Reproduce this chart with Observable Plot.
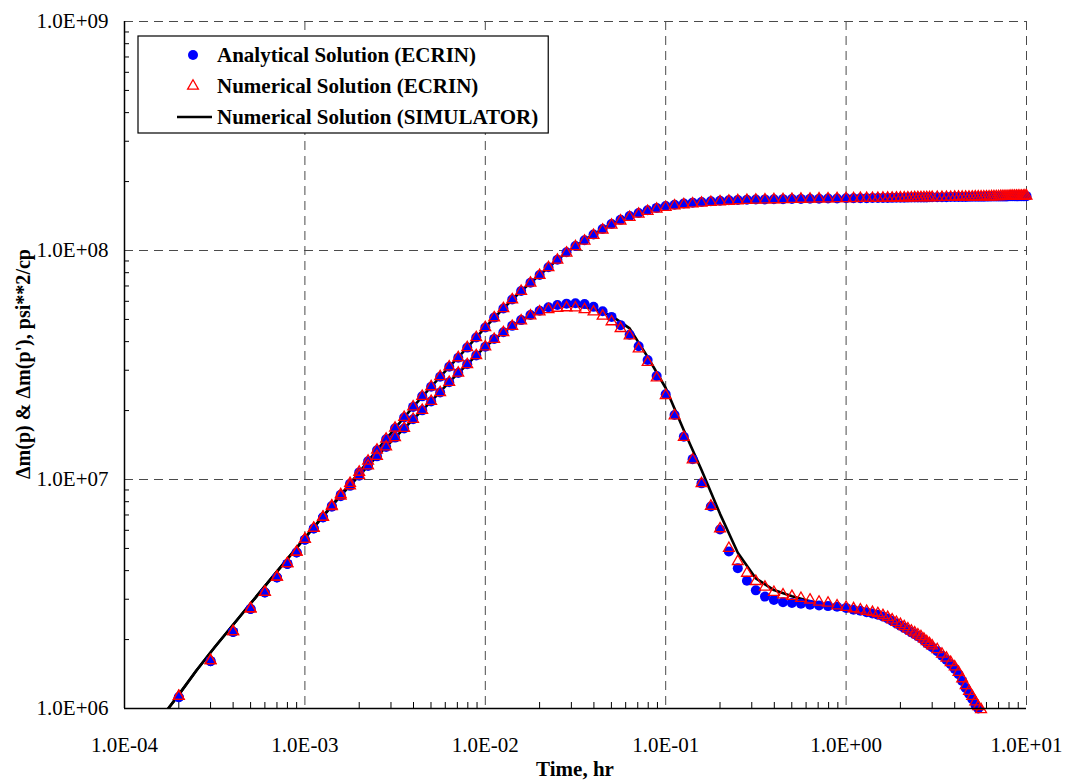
<!DOCTYPE html>
<html>
<head>
<meta charset="utf-8">
<script src="https://cdn.jsdelivr.net/npm/d3@7"></script>
<script src="https://cdn.jsdelivr.net/npm/@observablehq/plot@0.6"></script>
<style>
  html, body { margin: 0; padding: 0; background: #fff; }
  #chart { position: relative; width: 1066px; height: 780px; }
</style>
</head>
<body>
<div id="chart"></div>
<script>
// ---------------- DATA ----------------
const xTicks = [1e-4, 1e-3, 1e-2, 1e-1, 1e0, 1e1];
const yTicks = [1e6, 1e7, 1e8, 1e9];
const legendLabels = ["Analytical Solution (ECRIN)", "Numerical Solution (ECRIN)", "Numerical Solution (SIMULATOR)"];
const xLabel = "Time, hr";
const yLabel = "\u0394m(p) & \u0394m(p'), psi**2/cp";

// ECRIN sample times (hr)
const time = [
  0.0002, 0.0003, 0.0004, 0.0005, 0.0006, 0.0007, 0.0008, 0.0009,
  0.001, 0.00112, 0.00126, 0.00141, 0.00158, 0.00178, 0.002, 0.00224, 0.00251, 0.00282,
  0.00316, 0.00355, 0.00398, 0.00447, 0.00501, 0.00562, 0.00631, 0.00708, 0.00794, 0.00891,
  0.01, 0.0112, 0.0126, 0.0141, 0.0158, 0.0178, 0.02, 0.0224, 0.0251, 0.0282,
  0.0316, 0.0355, 0.0398, 0.0447, 0.0501, 0.0562, 0.0631, 0.0708, 0.0794, 0.0891,
  0.1, 0.112, 0.126, 0.141, 0.158, 0.178, 0.2, 0.224, 0.251, 0.282,
  0.316, 0.355, 0.398, 0.447, 0.501, 0.562, 0.631, 0.708, 0.794, 0.891,
  1.0,
  1.1, 1.2, 1.3, 1.4, 1.5, 1.6, 1.7, 1.8, 1.9, 2.0, 2.1, 2.2, 2.3, 2.4, 2.5, 2.6, 2.7, 2.8, 2.9, 3.0,
  3.2, 3.4, 3.6, 3.8, 4.0, 4.2, 4.4, 4.6, 4.8, 5.0, 5.2, 5.4, 5.6, 5.8, 6.0, 6.2, 6.4, 6.6, 6.8, 7.0,
  7.2, 7.4, 7.6, 7.8, 8.0, 8.2, 8.4, 8.6, 8.8, 9.0, 9.2, 9.4, 9.6, 9.8, 10.0
];

// Analytical solution (ECRIN): delta m(p)
const anaP = [
  1.12e6, 1.61e6, 2.16e6, 2.72e6, 3.21e6, 3.73e6, 4.28e6, 4.80e6,
  5.46e6, 6.11e6, 6.84e6, 7.66e6, 8.57e6, 9.59e6, 1.074e7, 1.202e7, 1.343e7, 1.500e7,
  1.675e7, 1.866e7, 2.075e7, 2.307e7, 2.541e7, 2.812e7, 3.105e7, 3.404e7, 3.767e7, 4.169e7,
  4.613e7, 5.093e7, 5.585e7, 6.109e7, 6.653e7, 7.228e7, 7.816e7, 8.453e7, 9.120e7, 9.817e7,
  1.047e8, 1.109e8, 1.175e8, 1.242e8, 1.306e8, 1.361e8, 1.413e8, 1.459e8, 1.500e8, 1.535e8,
  1.563e8, 1.585e8, 1.603e8, 1.618e8, 1.629e8, 1.641e8, 1.648e8, 1.656e8, 1.663e8, 1.667e8,
  1.671e8, 1.672e8, 1.674e8, 1.676e8, 1.678e8, 1.680e8, 1.682e8, 1.684e8, 1.686e8, 1.688e8,
  1.690e8,
  1.691e8, 1.692e8, 1.693e8, 1.694e8, 1.695e8, 1.696e8, 1.697e8, 1.698e8, 1.699e8, 1.700e8,
  1.701e8, 1.702e8, 1.703e8, 1.703e8, 1.704e8, 1.705e8, 1.705e8, 1.706e8, 1.707e8, 1.707e8,
  1.708e8, 1.709e8, 1.710e8, 1.711e8, 1.712e8, 1.713e8, 1.714e8, 1.714e8, 1.715e8, 1.716e8,
  1.716e8, 1.717e8, 1.718e8, 1.718e8, 1.719e8, 1.719e8, 1.720e8, 1.720e8, 1.721e8, 1.721e8,
  1.722e8, 1.722e8, 1.723e8, 1.723e8, 1.724e8, 1.724e8, 1.724e8, 1.725e8, 1.725e8, 1.725e8,
  1.726e8, 1.726e8, 1.726e8, 1.727e8, 1.727e8
];

// Analytical solution (ECRIN): delta m(p)'
const anaD = [
  1.12e6, 1.61e6, 2.16e6, 2.72e6, 3.21e6, 3.73e6, 4.28e6, 4.80e6,
  5.46e6, 6.11e6, 6.82e6, 7.60e6, 8.45e6, 9.38e6, 1.038e7, 1.146e7, 1.262e7, 1.387e7,
  1.524e7, 1.671e7, 1.832e7, 2.004e7, 2.193e7, 2.399e7, 2.661e7, 2.917e7, 3.184e7, 3.483e7,
  3.802e7, 4.111e7, 4.395e7, 4.688e7, 4.966e7, 5.224e7, 5.458e7, 5.649e7, 5.781e7, 5.861e7,
  5.888e7, 5.834e7, 5.675e7, 5.433e7, 5.129e7, 4.721e7, 4.285e7, 3.819e7, 3.327e7, 2.831e7,
  2.355e7, 1.914e7, 1.538e7, 1.227e7, 9.62e6, 7.62e6, 6.05e6, 4.85e6, 4.10e6, 3.61e6,
  3.28e6, 3.08e6, 2.98e6, 2.91e6, 2.89e6, 2.87e6, 2.84e6, 2.82e6, 2.80e6, 2.78e6,
  2.75e6,
  2.70e6, 2.67e6, 2.63e6, 2.60e6, 2.57e6, 2.52e6, 2.47e6, 2.41e6, 2.35e6, 2.30e6,
  2.25e6, 2.20e6, 2.15e6, 2.11e6, 2.07e6, 2.03e6, 1.98e6, 1.93e6, 1.89e6, 1.85e6,
  1.78e6, 1.70e6, 1.63e6, 1.56e6, 1.49e6, 1.41e6, 1.32e6, 1.23e6, 1.16e6, 1.10e6,
  1.04e6, 1.00e6
];

// Numerical solution (ECRIN): delta m(p)
const numP = [
  1.13e6, 1.62e6, 2.17e6, 2.73e6, 3.22e6, 3.75e6, 4.30e6, 4.82e6,
  5.48e6, 6.13e6, 6.86e6, 7.68e6, 8.60e6, 9.62e6, 1.077e7, 1.205e7, 1.346e7, 1.503e7,
  1.678e7, 1.869e7, 2.078e7, 2.310e7, 2.544e7, 2.815e7, 3.108e7, 3.406e7, 3.769e7, 4.170e7,
  4.613e7, 5.090e7, 5.580e7, 6.100e7, 6.640e7, 7.210e7, 7.795e7, 8.420e7, 9.080e7, 9.760e7,
  1.040e8, 1.101e8, 1.165e8, 1.230e8, 1.293e8, 1.347e8, 1.398e8, 1.443e8, 1.484e8, 1.518e8,
  1.546e8, 1.568e8, 1.586e8, 1.601e8, 1.613e8, 1.625e8, 1.634e8, 1.643e8, 1.651e8, 1.657e8,
  1.662e8, 1.665e8, 1.668e8, 1.671e8, 1.674e8, 1.676e8, 1.679e8, 1.681e8, 1.683e8, 1.685e8,
  1.687e8,
  1.688e8, 1.690e8, 1.690e8, 1.692e8, 1.692e8, 1.694e8, 1.695e8, 1.695e8, 1.697e8, 1.698e8,
  1.698e8, 1.700e8, 1.700e8, 1.702e8, 1.702e8, 1.703e8, 1.704e8, 1.704e8, 1.705e8, 1.706e8,
  1.706e8, 1.707e8, 1.708e8, 1.709e8, 1.710e8, 1.711e8, 1.712e8, 1.713e8, 1.713e8, 1.714e8,
  1.715e8, 1.715e8, 1.716e8, 1.717e8, 1.718e8, 1.718e8, 1.719e8, 1.720e8, 1.721e8, 1.722e8,
  1.723e8, 1.724e8, 1.725e8, 1.726e8, 1.727e8, 1.728e8, 1.728e8, 1.729e8, 1.729e8, 1.730e8,
  1.730e8, 1.731e8, 1.731e8, 1.732e8, 1.732e8
];

// Numerical solution (ECRIN): delta m(p)'
const numD = [
  1.13e6, 1.62e6, 2.17e6, 2.73e6, 3.22e6, 3.75e6, 4.30e6, 4.82e6,
  5.48e6, 6.13e6, 6.84e6, 7.62e6, 8.47e6, 9.40e6, 1.040e7, 1.148e7, 1.264e7, 1.389e7,
  1.526e7, 1.673e7, 1.834e7, 2.006e7, 2.195e7, 2.400e7, 2.660e7, 2.915e7, 3.180e7, 3.478e7,
  3.795e7, 4.100e7, 4.380e7, 4.665e7, 4.935e7, 5.185e7, 5.400e7, 5.530e7, 5.600e7, 5.630e7,
  5.620e7, 5.530e7, 5.400e7, 5.170e7, 4.890e7, 4.570e7, 4.240e7, 3.720e7, 3.250e7, 2.780e7,
  2.330e7, 1.900e7, 1.530e7, 1.220e7, 9.60e6, 7.65e6, 6.10e6, 5.01e6, 4.39e6, 3.90e6,
  3.59e6, 3.39e6, 3.22e6, 3.14e6, 3.09e6, 3.03e6, 2.98e6, 2.92e6, 2.89e6, 2.81e6,
  2.77e6,
  2.73e6, 2.70e6, 2.66e6, 2.63e6, 2.60e6, 2.55e6, 2.50e6, 2.44e6, 2.38e6, 2.33e6,
  2.28e6, 2.23e6, 2.18e6, 2.14e6, 2.10e6, 2.06e6, 2.01e6, 1.96e6, 1.92e6, 1.88e6,
  1.81e6, 1.73e6, 1.66e6, 1.59e6, 1.52e6, 1.44e6, 1.35e6, 1.26e6, 1.19e6, 1.13e6,
  1.07e6, 1.02e6, 0.99e6
];

// Numerical solution (SIMULATOR)
const simTime = [
  0.000158, 0.0002, 0.000251, 0.000316, 0.000398, 0.000501, 0.000631, 0.000794,
  0.001, 0.00126, 0.00158, 0.002, 0.00251, 0.00316, 0.00398, 0.00501, 0.00631, 0.00794,
  0.01, 0.0126, 0.0158, 0.02, 0.0251, 0.0316, 0.0398, 0.0501, 0.0631, 0.0794,
  0.1, 0.126, 0.158, 0.2, 0.251, 0.316, 0.398, 0.501, 0.631, 0.794,
  1.0, 1.5, 2, 2.5, 3, 3.5, 4, 4.5, 5, 5.5, 6, 7, 8, 9, 10
];
const simP = [
  0.90e6, 1.15e6, 1.47e6, 1.85e6, 2.31e6, 2.88e6, 3.59e6, 4.47e6,
  5.56e6, 6.92e6, 8.57e6, 1.074e7, 1.343e7, 1.675e7, 2.075e7, 2.541e7, 3.105e7, 3.767e7,
  4.613e7, 5.585e7, 6.653e7, 7.816e7, 9.12e7, 1.047e8, 1.175e8, 1.306e8, 1.413e8, 1.500e8,
  1.563e8, 1.603e8, 1.629e8, 1.648e8, 1.663e8, 1.671e8, 1.674e8, 1.678e8, 1.682e8, 1.686e8,
  1.690e8, 1.695e8, 1.700e8, 1.704e8, 1.707e8, 1.710e8, 1.712e8, 1.714e8, 1.716e8, 1.717e8,
  1.719e8, 1.721e8, 1.724e8, 1.725e8, 1.727e8
];
const simD = [
  0.90e6, 1.15e6, 1.47e6, 1.85e6, 2.31e6, 2.88e6, 3.59e6, 4.47e6,
  5.56e6, 6.90e6, 8.50e6, 1.04e7, 1.262e7, 1.524e7, 1.832e7, 2.193e7, 2.661e7, 3.184e7,
  3.802e7, 4.395e7, 4.966e7, 5.43e7, 5.70e7, 5.76e7, 5.58e7, 5.18e7, 4.57e7, 3.43e7,
  2.51e7, 1.64e7, 1.10e7, 7.08e6, 4.79e6, 3.70e6, 3.29e6, 3.09e6, 2.94e6, 2.83e6,
  2.75e6, 2.58e6, 2.31e6, 2.08e6, 1.86e6, 1.67e6, 1.50e6, 1.29e6, 1.11e6, 0.98e6
];

// ---------------- BUILD ----------------
const rows = (ts, vs, curve) => vs.map((v, i) => ({t: ts[i], v, curve})).filter(d => d.t != null);
const anaRows = [...rows(time, anaP, "p"), ...rows(time, anaD, "d")];
const numRows = [...rows(time, numP, "p"), ...rows(time, numD, "d")];
const simRows = [...rows(simTime, simP, "p"), ...rows(simTime, simD, "d")];

const fmtE = d => {
  const e = Math.round(Math.log10(d));
  return "1.0E" + (e < 0 ? "-" : "+") + String(Math.abs(e)).padStart(2, "0");
};

const xMinor = [];
const yMinor = [];
for (let e = -4; e < 1; e++) for (let k = 2; k <= 9; k++) xMinor.push(k * Math.pow(10, e));
for (let e = 6; e < 9; e++) for (let k = 2; k <= 9; k++) yMinor.push(k * Math.pow(10, e));

const W = 1066, H = 780, ML = 124, MR = 40, MT = 21, MB = 72;
const frameW = W - ML - MR, frameH = H - MT - MB;
const grid = {stroke: "#4a4a4a", strokeWidth: 1, strokeDasharray: "9,6"};
const rCircle = 5, rTri = 4;

const plot = Plot.plot({
  width: W, height: H,
  marginLeft: ML, marginRight: MR, marginTop: MT, marginBottom: MB,
  style: {fontFamily: "'Liberation Serif', 'Times New Roman', serif", fontSize: "21px", color: "#000", background: "#fff"},
  x: {type: "log", domain: [1e-4, 1e1]},
  y: {type: "log", domain: [1e6, 1e9]},
  marks: [
    Plot.ruleX(xTicks.slice(1), grid),
    Plot.ruleY(yTicks.slice(1), grid),
    Plot.tickY(yMinor, {stroke: "#000", strokeWidth: 1, insetRight: frameW - 5}),
    Plot.tickX(xMinor, {stroke: "#000", strokeWidth: 1, insetTop: frameH - 6}),
    Plot.line(simRows, {x: "t", y: "v", z: "curve", stroke: "#000", strokeWidth: 2.6, clip: true}),
    Plot.dot(anaRows, {x: "t", y: "v", r: rCircle, fill: "#0000ff", symbol: "circle"}),
    Plot.dot(numRows, {x: "t", y: "v", r: rTri, symbol: "triangle", stroke: "#ff0000", fill: "none", strokeWidth: 1.3}),
    Plot.ruleX([1e-4], {stroke: "#000", strokeWidth: 1.5}),
    Plot.ruleY([1e6], {stroke: "#000", strokeWidth: 1.5}),
    Plot.axisX({ticks: xTicks, tickFormat: fmtE, tickSize: 0, tickPadding: 29, label: null}),
    Plot.axisY({ticks: yTicks, tickFormat: fmtE, tickSize: 0, tickPadding: 16, label: null})
  ]
});

document.getElementById("chart").appendChild(plot);

const svg = d3.select(plot);

// axis titles
svg.append("text")
  .attr("transform", "translate(30,364) rotate(-90)")
  .attr("text-anchor", "middle")
  .attr("font-weight", "bold")
  .attr("font-size", 20)
  .attr("textLength", 230)
  .attr("lengthAdjust", "spacingAndGlyphs")
  .attr("fill", "#000")
  .text(yLabel);

svg.append("text")
  .attr("x", ML + frameW / 2)
  .attr("y", 776)
  .attr("text-anchor", "middle")
  .attr("font-weight", "bold")
  .attr("font-size", 21)
  .attr("fill", "#000")
  .text(xLabel);

// legend
const lg = svg.append("g").attr("text-anchor", "start");
const box = lg.append("rect")
  .attr("x", 138).attr("y", 36).attr("height", 97)
  .attr("fill", "#fff").attr("stroke", "#000").attr("stroke-width", 1.2);
const rowY = [55, 86, 117];
lg.append("circle").attr("cx", 193).attr("cy", rowY[0]).attr("r", rCircle).attr("fill", "#0000ff");
lg.append("path").attr("transform", `translate(193,${rowY[1]})`)
  .attr("d", d3.symbol(d3.symbolTriangle, rTri * rTri * Math.PI)())
  .attr("fill", "none").attr("stroke", "#ff0000").attr("stroke-width", 1.3);
lg.append("line").attr("x1", 177).attr("x2", 212).attr("y1", rowY[2]).attr("y2", rowY[2])
  .attr("stroke", "#000").attr("stroke-width", 2.6);
let maxW = 0;
legendLabels.forEach((s, i) => {
  const t = lg.append("text")
    .attr("x", 217).attr("y", rowY[i] + 7)
    .attr("text-anchor", "start")
    .attr("font-weight", "bold").attr("font-size", 21).attr("fill", "#000")
    .text(s);
  maxW = Math.max(maxW, t.node().getComputedTextLength());
});
box.attr("width", 217 + maxW + 10 - 138);
</script>
</body>
</html>
